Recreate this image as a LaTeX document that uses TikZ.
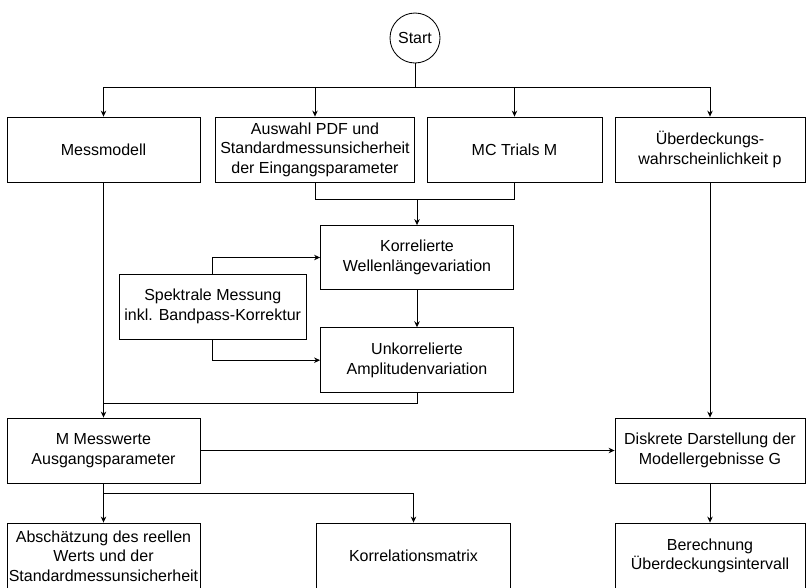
\documentclass[tikz,border=0pt]{standalone}
\usepackage{fontspec}
\setmainfont{Liberation Sans}
\usetikzlibrary{arrows.meta}
\begin{document}
\begin{tikzpicture}[x=1pt,y=-1pt,
  box/.style={draw=black, line width=0.85pt, inner sep=0pt, align=center,
    font=\fontsize{16}{19.5}\selectfont},
  startnode/.style={draw=black, line width=0.85pt, circle, minimum size=50pt, inner sep=0pt,
    font=\fontsize{16}{19.5}\selectfont},
  conn/.style={line width=0.85pt, draw=black},
  arr/.style={conn, -{Stealth[length=6pt,width=5.5pt]}}]
\path[use as bounding box, clip] (0,0) rectangle (806,587);
% nodes
\node[startnode] (start) at (415,38) {Start};
\node[box, minimum width=193pt, minimum height=65pt] (mm) at (103.5,149.5) {Messmodell};
\node[box, minimum width=199pt, minimum height=65pt] (aus) at (315,149.5) {Auswahl PDF und\\Standardmessunsicherheit\\der Eingangsparameter};
\node[box, minimum width=175pt, minimum height=65pt] (mc) at (514.5,149.5) {MC Trials M};
\node[box, minimum width=190pt, minimum height=65pt] (ueb) at (710,149.5) {Überdeckungs-\\wahrscheinlichkeit p};
\node[box, minimum width=193pt, minimum height=64pt] (korr) at (417,257.5) {Korrelierte\\Wellenlängevariation};
\node[box, minimum width=187.5pt, minimum height=65pt] (spek) at (212.75,306.5) {Spektrale Messung\\inkl. Bandpass-Korrektur};
\node[box, minimum width=193pt, minimum height=65pt] (unk) at (417,360.2) {Unkorrelierte\\Amplitudenvariation};
\node[box, minimum width=193pt, minimum height=65pt] (mmess) at (103.5,450.5) {M Messwerte\\Ausgangsparameter};
\node[box, minimum width=190pt, minimum height=65pt] (disk) at (710,450.5) {Diskrete Darstellung der\\Modellergebnisse G};
\node[box, minimum width=193pt, minimum height=66pt] (abs) at (103.5,556) {Abschätzung des reellen\\Werts und der\\Standardmessunsicherheit};
\node[box, minimum width=194pt, minimum height=66pt] (kmat) at (413.5,556) {Korrelationsmatrix};
\node[box, minimum width=190pt, minimum height=66pt] (ber) at (710,556) {Berechnung\\Überdeckungsintervall};
% junction coordinates
\coordinate (barL) at (103.5,87);
\coordinate (barR) at (710,87);
\coordinate (j1) at (417,199);
\coordinate (j2) at (103.5,403);
\coordinate (j3) at (103.5,493.5);
% connectors
\draw[conn] (start.south) -- (start.south |- barL);
\draw[conn] (barL) -- (barR);
\draw[arr] (barL) -- (mm.north);
\draw[arr] (aus.north |- barL) -- (aus.north);
\draw[arr] (mc.north |- barL) -- (mc.north);
\draw[arr] (barR) -- (ueb.north);
\draw[conn] (aus.south) |- (j1);
\draw[conn] (mc.south) |- (j1);
\draw[arr] (j1) -- (korr.north);
\draw[arr] (spek.north) |- (korr.west);
\draw[arr] (spek.south) |- (unk.west);
\draw[arr] (korr.south) -- (unk.north);
\draw[conn] (unk.south) |- (j2);
\draw[arr] (mm.south) -- (mmess.north);
\draw[arr] (mmess.east) -- (disk.west);
\draw[arr] (ueb.south) -- (disk.north);
\draw[arr] (disk.south) -- (ber.north);
\draw[arr] (mmess.south) -- (abs.north);
\draw[arr] (j3) -| (kmat.north);
\end{tikzpicture}
\end{document}
